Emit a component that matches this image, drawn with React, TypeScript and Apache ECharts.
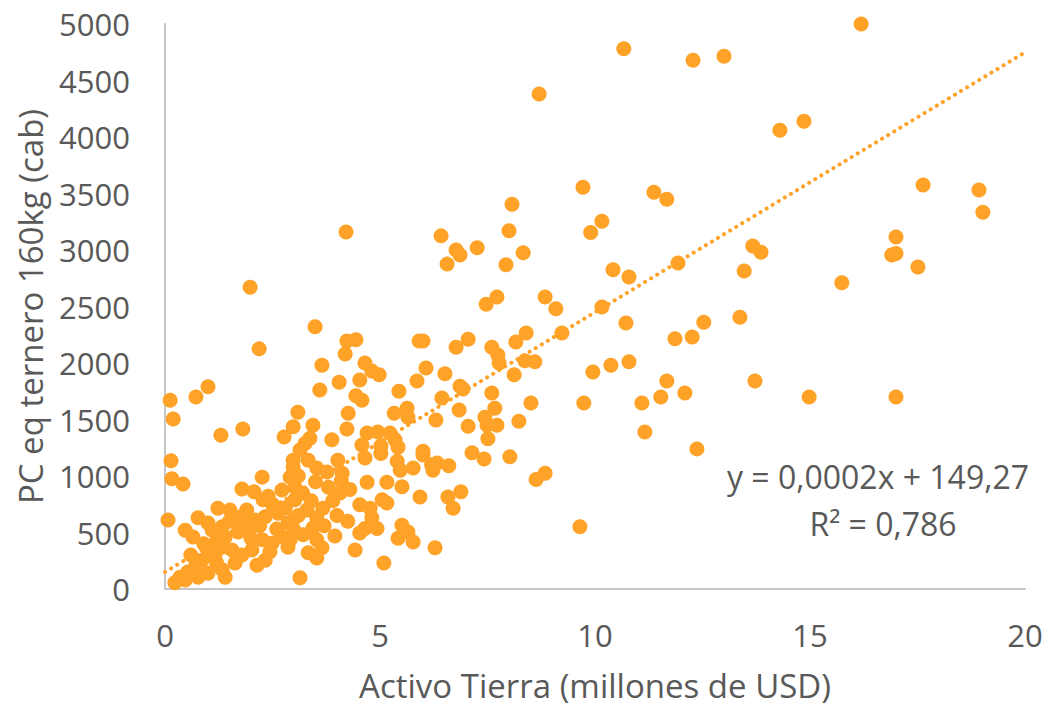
import React, { useEffect, useRef } from "react";
import * as echarts from "echarts";

// Activo Tierra (millones de USD)
const activoTierra: number[] = [
  16.19, 10.67, 12.28, 13.0, 8.7, 14.3, 14.86, 9.72, 11.37, 11.67,
  17.63, 18.93, 19.02, 8.07, 10.16, 9.9, 8.0, 4.21, 6.42, 17.0,
  6.77, 6.86, 7.26, 8.33, 13.67, 13.86, 16.9, 17.0, 7.93, 6.56,
  11.93, 10.42, 10.79, 13.47, 1.98, 17.51, 15.74, 7.72, 8.84, 7.47,
  9.09, 10.16, 10.72, 12.53, 13.37, 3.49, 4.23, 4.44, 5.91, 6.0,
  7.05, 8.4, 9.23, 11.86, 12.26, 2.19, 6.77, 7.6, 4.19, 7.74,
  7.77, 3.65, 4.65, 8.16, 6.07, 4.81, 4.98, 8.37, 8.6, 10.37,
  10.79, 8.12, 9.95, 4.53, 5.86, 4.05, 11.67, 13.72, 3.6, 5.44,
  6.51, 6.86, 6.93, 7.6, 11.53, 12.09, 0.12, 0.72, 1.0, 4.44,
  4.58, 6.44, 8.51, 9.74, 11.09, 14.98, 17.0, 4.26, 3.09, 5.33,
  5.63, 5.65, 6.84, 7.67, 0.19, 6.3, 7.44, 7.05, 7.49, 7.72,
  8.23, 1.3, 1.81, 2.77, 2.98, 3.44, 4.23, 3.37, 3.88, 4.7,
  4.95, 5.23, 7.51, 11.16, 12.37, 4.58, 5.02, 5.35, 5.42, 6.0,
  3.26, 7.14, 7.42, 8.02, 5.02, 4.65, 5.4, 5.47, 6.0, 6.2,
  5.77, 6.33, 6.23, 6.6, 8.84, 8.63, 4.02, 3.33, 3.53, 3.77,
  4.12, 4.7, 5.16, 5.51, 5.93, 4.07, 4.53, 4.77, 5.05, 5.16,
  3.3, 3.67, 3.53, 4.81, 4.65, 4.93, 4.53, 5.51, 5.42, 5.77,
  5.65, 6.28, 4.42, 5.09, 3.14, 3.44, 3.21, 3.53, 3.33, 3.65,
  3.53, 2.91, 2.98, 3.02, 2.91, 2.98, 3.14, 6.58, 6.88, 6.7,
  9.65, 0.14, 0.16, 0.42, 0.07, 2.26, 1.79, 2.07, 2.28, 2.98,
  2.72, 3.02, 1.23, 1.51, 1.77, 0.77, 1.0, 0.47, 0.65, 1.33,
  1.4, 1.7, 1.98, 2.09, 2.33, 2.63, 2.86, 2.72, 2.49, 2.26,
  2.44, 2.86, 2.14, 1.56, 1.33, 1.0, 1.16, 0.86, 0.7, 0.53,
  0.35, 0.23, 0.47, 0.77, 1.0, 1.33, 1.4, 1.63, 1.79, 2.02,
  2.33, 2.5, 2.8, 3.1, 2.2, 2.6, 3.0, 1.9, 2.4,
  3.2, 3.5, 3.8, 4.1, 3.9, 4.3, 1.2, 1.5, 0.9, 1.1,
  2.0, 1.8, 3.7, 4.0, 4.25, 3.95, 3.1, 3.4, 0.6, 1.2,
];

// PC eq ternero 160kg (cab)
const pcTernero: number[] = [
  5000, 4780, 4680, 4715, 4380, 4060, 4140, 3555, 3510, 3450,
  3575, 3530, 3335, 3405, 3255, 3155, 3170, 3160, 3125, 3115,
  3000, 2955, 3020, 2975, 3035, 2980, 2955, 2970, 2870, 2875,
  2885, 2825, 2760, 2815, 2670, 2850, 2710, 2585, 2585, 2520,
  2480, 2495, 2355, 2360, 2405, 2320, 2195, 2205, 2195, 2195,
  2210, 2265, 2265, 2215, 2230, 2125, 2140, 2140, 2080, 2070,
  2000, 1980, 2000, 2185, 1955, 1930, 1895, 2020, 2010, 1980,
  2010, 1895, 1920, 1850, 1840, 1830, 1840, 1840, 1760, 1750,
  1905, 1795, 1770, 1735, 1700, 1735, 1670, 1700, 1790, 1710,
  1670, 1690, 1645, 1645, 1645, 1700, 1700, 1555, 1565, 1555,
  1600, 1520, 1585, 1600, 1505, 1495, 1520, 1440, 1450, 1450,
  1485, 1360, 1415, 1345, 1435, 1450, 1415, 1335, 1320, 1380,
  1390, 1380, 1330, 1390, 1240, 1275, 1265, 1320, 1255, 1220,
  1290, 1205, 1150, 1170, 1200, 1160, 1130, 1050, 1185, 1100,
  1070, 1115, 1050, 1090, 1025, 970, 1140, 1140, 1070, 1035,
  1025, 945, 945, 905, 815, 850, 745, 715, 790, 760,
  700, 715, 630, 630, 535, 535, 495, 565, 450, 415,
  505, 365, 345, 230, 100, 540, 480, 435, 320, 365,
  275, 435, 610, 790, 990, 1140, 1230, 815, 860, 715,
  550, 1135, 975, 930, 610, 990, 885, 860, 790, 1080,
  875, 900, 715, 700, 640, 630, 585, 520, 460, 550,
  460, 505, 540, 610, 640, 670, 585, 460, 405, 435,
  330, 370, 210, 345, 370, 345, 285, 255, 195, 150,
  105, 55, 80, 105, 140, 170, 105, 230, 300, 345,
  255, 750, 720, 650, 560, 530, 520, 700, 820,
  850, 950, 900, 960, 780, 880, 420, 600, 400, 520,
  450, 560, 560, 650, 600, 470, 1000, 780, 300, 230,
];

// Linear trend (x in USD): y = slope * x + intercept
const trendSlopePerUSD = 0.00023;
const trendIntercept = 149.27;
const trendX: number[] = [0, 20];
const equationLabel = "y = 0,0002x + 149,27";
const r2Label = "R² = 0,786";

const xTicks = { min: 0, max: 20, interval: 5 };
const yTicks = { min: 0, max: 5000, interval: 500 };

const ORANGE = "#FFA228";
const TEXT = "#595959";
const AXIS = "#C6C6C6";
const FONT = "'Open Sans', 'Noto Sans', sans-serif";

export default function App() {
  const ref = useRef<HTMLDivElement>(null);

  useEffect(() => {
    if (!ref.current) return;
    const chart = echarts.init(ref.current, undefined, { renderer: "svg" });

    const points = activoTierra.map((x, i) => [x, pcTernero[i]]);
    const trend = trendX.map((x) => [x, trendIntercept + trendSlopePerUSD * x * 1e6]);

    chart.setOption({
      animation: false,
      backgroundColor: "#ffffff",
      textStyle: { fontFamily: FONT },
      grid: { left: 165, right: 22, top: 24, bottom: 119, containLabel: false },
      xAxis: {
        type: "value",
        ...xTicks,
        name: "Activo Tierra (millones de USD)",
        nameLocation: "middle",
        nameGap: 80,
        nameTextStyle: { color: TEXT, fontSize: 33, fontFamily: FONT },
        axisLine: { show: true, onZero: false, lineStyle: { color: AXIS, width: 2 } },
        axisTick: { show: false },
        splitLine: { show: false },
        axisLabel: { color: TEXT, fontSize: 31, fontFamily: FONT, margin: 30 },
      },
      yAxis: {
        type: "value",
        ...yTicks,
        name: "PC eq ternero 160kg (cab)",
        nameLocation: "middle",
        nameGap: 118,
        nameTextStyle: { color: TEXT, fontSize: 33, fontFamily: FONT },
        axisLine: { show: true, onZero: false, lineStyle: { color: AXIS, width: 2 } },
        axisTick: { show: false },
        splitLine: { show: false },
        axisLabel: {
          color: TEXT,
          fontSize: 31,
          fontFamily: FONT,
          margin: 35,
          formatter: (v: number) => String(v),
        },
      },
      series: [
        {
          type: "line",
          data: trend,
          symbol: "none",
          z: 1,
          lineStyle: { color: ORANGE, width: 4, type: [0.1, 7], cap: "round" },
          silent: true,
        },
        {
          type: "scatter",
          data: points,
          symbol: "circle",
          symbolSize: 15,
          z: 2,
          itemStyle: { color: ORANGE, opacity: 1 },
        },
      ],
      graphic: [
        {
          type: "text",
          x: 878,
          y: 476,
          style: {
            text: equationLabel,
            align: "center",
            verticalAlign: "middle",
            fill: TEXT,
            font: `32px ${FONT}`,
          },
        },
        {
          type: "text",
          x: 883,
          y: 523,
          style: {
            text: r2Label,
            align: "center",
            verticalAlign: "middle",
            fill: TEXT,
            font: `32px ${FONT}`,
          },
        },
      ],
    });

    return () => chart.dispose();
  }, []);

  return (
    <div
      ref={ref}
      style={{ position: "fixed", left: 0, top: 0, width: 1047, height: 708 }}
    />
  );
}
